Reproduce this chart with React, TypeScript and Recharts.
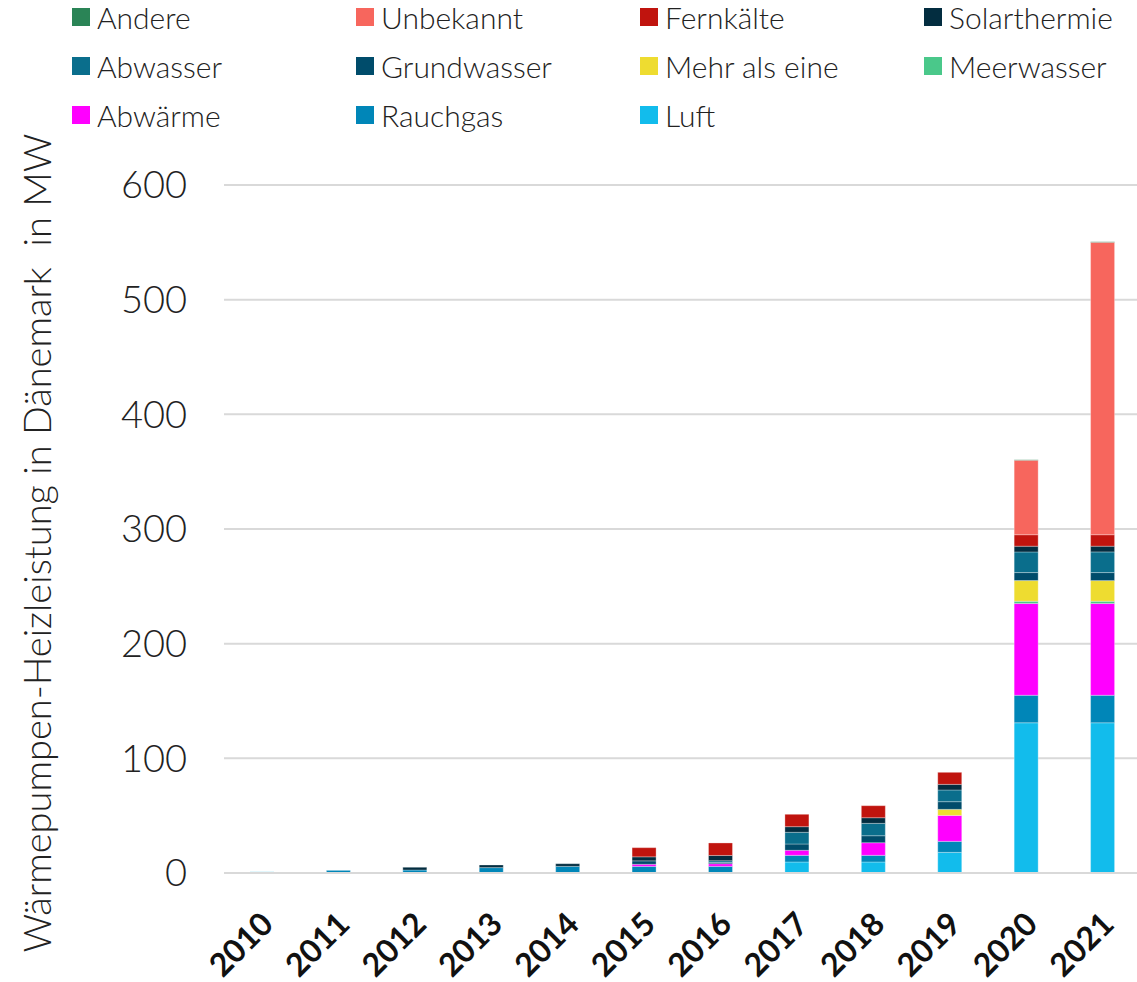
import { BarChart, Bar, XAxis, YAxis, CartesianGrid, Legend, Label } from "recharts"

const YEARS = ["2010", "2011", "2012", "2013", "2014", "2015", "2016", "2017", "2018", "2019", "2020", "2021"]

// MW per source, stacked bottom to top
const LUFT = [1, 0, 0, 0, 0, 0, 0, 9.6, 9.6, 18, 131, 131]
const RAUCHGAS = [0, 2.3, 2.6, 4.7, 5.8, 5.8, 5.8, 5.8, 5.8, 9.6, 24, 24]
const ABWAERME = [0, 0, 0, 0, 0, 1.8, 2.3, 4.4, 11, 22.6, 80, 80]
const MEERWASSER = [0, 0, 0, 0, 0, 0, 0, 0, 0, 0, 2, 2]
const MEHR_ALS_EINE = [0, 0, 0, 0, 0, 0, 0, 0, 0, 5.3, 18, 18]
const GRUNDWASSER = [0, 0, 0, 0, 0, 3, 1.1, 5.5, 6.1, 6.7, 7, 7]
const ABWASSER = [0, 0, 0, 0, 0, 0, 1.5, 10.2, 10.8, 10.2, 18, 18]
const SOLARTHERMIE = [0, 0, 2.4, 2.3, 2.3, 3.5, 4.6, 4.9, 4.9, 4.9, 5, 5]
const FERNKAELTE = [0, 0, 0, 0, 0, 8, 10.9, 10.8, 10.5, 10.5, 10, 10]
const UNBEKANNT = [0, 0, 0, 0, 0, 0, 0, 0, 0, 0, 65, 255]
const ANDERE = [0, 0, 0, 0, 0, 0, 0, 0, 0, 0, 0.5, 0.5]

const Y_TICKS = [0, 100, 200, 300, 400, 500, 600]

const SERIES = [
  { key: "Luft", values: LUFT, color: "#12bcec" },
  { key: "Rauchgas", values: RAUCHGAS, color: "#0086b8" },
  { key: "Abwärme", values: ABWAERME, color: "#ff00ff" },
  { key: "Meerwasser", values: MEERWASSER, color: "#4ac88a" },
  { key: "Mehr als eine", values: MEHR_ALS_EINE, color: "#eedc30" },
  { key: "Grundwasser", values: GRUNDWASSER, color: "#004c6b" },
  { key: "Abwasser", values: ABWASSER, color: "#0a6e8c" },
  { key: "Solarthermie", values: SOLARTHERMIE, color: "#032d40" },
  { key: "Fernkälte", values: FERNKAELTE, color: "#c0140e" },
  { key: "Unbekannt", values: UNBEKANNT, color: "#f7665d" },
  { key: "Andere", values: ANDERE, color: "#2a8456" },
]

const LEGEND_ORDER = [
  "Andere", "Unbekannt", "Fernkälte", "Solarthermie",
  "Abwasser", "Grundwasser", "Mehr als eine", "Meerwasser",
  "Abwärme", "Rauchgas", "Luft",
]

const FONT = "Lato, 'Open Sans', sans-serif"

const data = YEARS.map((year, i) => {
  const row: Record<string, string | number> = { year }
  SERIES.forEach((s) => {
    row[s.key] = s.values[i]
  })
  return row
})

function LegendGrid() {
  return (
    <div style={{ position: "relative", width: 1137, height: 185, fontFamily: FONT, fontWeight: 300 }}>
      {LEGEND_ORDER.map((name, i) => {
        const s = SERIES.find((x) => x.key === name)!
        const col = i % 4
        const row = Math.floor(i / 4)
        return (
          <div
            key={name}
            style={{
              position: "absolute",
              left: 72 + col * 284,
              top: 17 + row * 49 - 18,
              height: 36,
              display: "flex",
              alignItems: "center",
              fontSize: 30,
              color: "#222",
              whiteSpace: "nowrap",
            }}
          >
            <span style={{ width: 18, height: 18, background: s.color, marginRight: 7, display: "inline-block" }} />
            {name}
          </div>
        )
      })}
    </div>
  )
}

function YearTick(props: any) {
  const { x, y, payload } = props
  const px = x + 13
  const py = y + 53
  return (
    <text
      x={px}
      y={py}
      transform={`rotate(-45, ${px}, ${py})`}
      textAnchor="end"
      fontFamily={FONT}
      fontWeight={700}
      fontSize={32}
      fill="#111"
    >
      {payload.value}
    </text>
  )
}

function YTitle() {
  return (
    <text
      x={36}
      y={543}
      transform="rotate(-90, 36, 543)"
      textAnchor="middle"
      dominantBaseline="central"
      fontFamily={FONT}
      fontWeight={300}
      fontSize={38}
      fill="#222"
      style={{ whiteSpace: "pre" }}
    >
      {"Wärmepumpen-Heizleistung in Dänemark  in MW"}
    </text>
  )
}

export default function App() {
  return (
    <div style={{ position: "absolute", left: 0, top: 0, width: 1137, height: 982, overflow: "hidden", background: "#fff" }}>
      <BarChart width={1141} height={982} data={data} margin={{ top: 0, right: 0, bottom: 0, left: 0 }}>
        <Legend
          verticalAlign="top"
          align="left"
          content={() => <LegendGrid />}
          wrapperStyle={{ left: 0, top: 0, width: 1137 }}
        />
        <CartesianGrid vertical={false} stroke="#d9d9d9" strokeWidth={2} />
        <XAxis
          dataKey="year"
          height={109}
          axisLine={{ stroke: "#d9d9d9", strokeWidth: 2 }}
          tickLine={false}
          tickSize={0}
          tickMargin={0}
          interval={0}
          tick={<YearTick />}
        />
        <YAxis
          width={224}
          domain={[0, 600]}
          ticks={Y_TICKS}
          axisLine={false}
          tickLine={false}
          tickSize={0}
          tickMargin={37}
          tick={{ fontFamily: FONT, fontWeight: 300, fontSize: 38, fill: "#222" }}
        >
          <Label content={() => <YTitle />} />
        </YAxis>
        {SERIES.map((s) => (
          <Bar
            key={s.key}
            dataKey={s.key}
            stackId="a"
            fill={s.color}
            barSize={24}
            stroke="#ffffff"
            strokeOpacity={0.5}
            strokeWidth={0.6}
            isAnimationActive={false}
          />
        ))}
      </BarChart>
    </div>
  )
}
